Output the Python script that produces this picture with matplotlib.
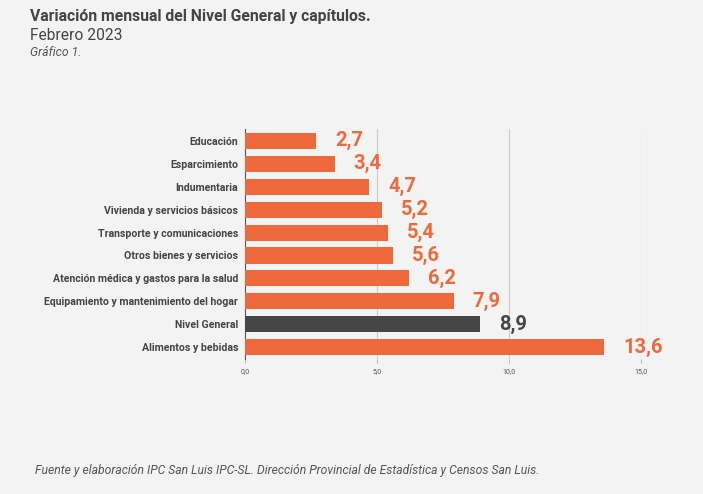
import matplotlib
matplotlib.use("Agg")
import matplotlib.pyplot as plt

categories = ["Educación", "Esparcimiento", "Indumentaria", "Vivienda y servicios básicos",
              "Transporte y comunicaciones", "Otros bienes y servicios",
              "Atención médica y gastos para la salud", "Equipamiento y mantenimiento del hogar",
              "Nivel General", "Alimentos y bebidas"]
values = [2.7, 3.4, 4.7, 5.2, 5.4, 5.6, 6.2, 7.9, 8.9, 13.6]
xticks = [0, 5, 10, 15]
xtick_labels = ["0,0", "5,0", "10,0", "15,0"]

ORANGE = "#ee6a3c"
DARK = "#464646"
BG = "#f3f3f3"

plt.rcParams['font.family'] = ['Roboto', 'DejaVu Sans']

fig = plt.figure(figsize=(7.03, 4.94), dpi=100, facecolor=BG)
ax = fig.add_axes([0.3485, 0.274, 0.912 - 0.3485, 0.738 - 0.274])
ax.set_facecolor(BG)

ypos = list(range(len(categories)))
colors = [DARK if c == "Nivel General" else ORANGE for c in categories]
ax.barh(ypos, values, height=0.7, color=colors, zorder=3)
ax.set_ylim(len(categories) - 0.5, -0.5)
ax.set_xlim(0, 15)

for y, v, c in zip(ypos, values, colors):
    ax.text(v + 0.72, y, f"{v:.1f}".replace(".", ","), va="center", ha="left",
            fontsize=14.5, fontweight="bold", color=c, zorder=4)

ax.set_yticks(ypos)
ax.set_yticklabels(categories, fontsize=7.6, fontweight="bold", color="#444444")
ax.tick_params(axis="y", length=0, pad=5)
ax.set_xticks(xticks)
ax.set_xticklabels(xtick_labels, fontsize=5, color="#555555")
ax.tick_params(axis="x", length=3, color="#bbbbbb", pad=4)
ax.grid(axis="x", color="#cccccc", linewidth=0.8, zorder=0)
for s in ["top", "right", "bottom"]:
    ax.spines[s].set_visible(False)
ax.spines["left"].set_color("#555555")
ax.spines["left"].set_linewidth(0.8)

fig.text(30/703, 1 - 16/494, "Variación mensual del Nivel General y capítulos.", fontsize=11.3,
         fontweight="bold", color="#444444", va="center", ha="left")
fig.text(30/703, 1 - 35/494, "Febrero 2023", fontsize=11.2, color="#444444", va="center", ha="left")
fig.text(30/703, 1 - 52/494, "Gráfico 1.", fontsize=8.8, style="italic", color="#555555", va="center", ha="left")
fig.text(35/703, 1 - 470/494,
         "Fuente y elaboración IPC San Luis IPC-SL. Dirección Provincial de Estadística y Censos San Luis.",
         fontsize=8.75, style="italic", color="#555555", va="center", ha="left")

fig.savefig("out.png", dpi=100, facecolor=BG)
